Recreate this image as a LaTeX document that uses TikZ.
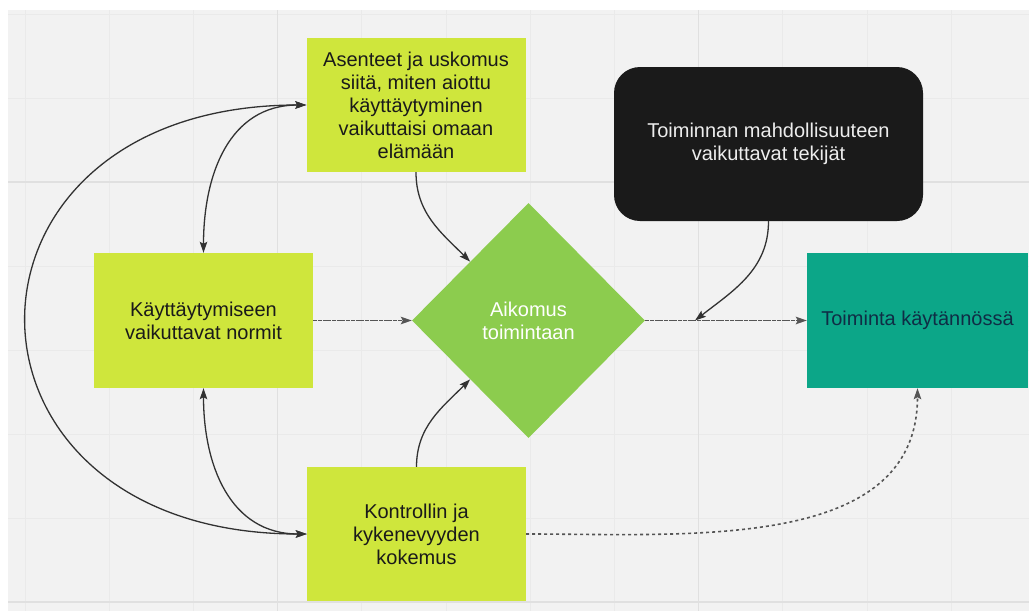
\documentclass[tikz,border=0pt]{standalone}
\usepackage{fontspec}
\setmainfont{Liberation Sans}
\usetikzlibrary{shapes.geometric,arrows.meta}

\definecolor{canvas}{RGB}{242,242,242}
\definecolor{gridminor}{RGB}{234,234,234}
\definecolor{gridmajor}{RGB}{224,224,224}
\definecolor{lime}{RGB}{207,230,60}
\definecolor{leaf}{RGB}{140,204,78}
\definecolor{teal}{RGB}{12,166,136}
\definecolor{ink}{RGB}{26,26,26}
\definecolor{navy}{RGB}{15,45,69}
\definecolor{wire}{RGB}{50,50,50}
\definecolor{softwire}{RGB}{85,85,85}

\tikzset{
  label font/.style={font=\fontsize{20}{23}\selectfont, align=center},
  limebox/.style={label font, fill=lime, text=ink, minimum width=219pt,
    minimum height=134pt, inner sep=0pt},
  decision/.style={label font, diamond, fill=leaf, text=white,
    minimum width=233pt, minimum height=235pt, inner sep=0pt},
  darkbox/.style={label font, fill=ink, text=white!93!black, rounded corners=26pt,
    minimum width=309pt, minimum height=154pt, inner sep=0pt},
  outcome/.style={label font, fill=teal, text=navy, minimum width=221pt,
    minimum height=135pt, inner sep=0pt},
  link/.style={draw=wire, line width=1.3pt, -{Stealth[length=11pt,width=7.5pt,inset=2pt]}},
  twoway/.style={draw=wire, line width=1.3pt,
    {Stealth[length=11pt,width=7.5pt,inset=2pt]}-{Stealth[length=11pt,width=7.5pt,inset=2pt]}},
  flow/.style={draw=softwire, line width=1.6pt, dash pattern=on 4pt off 0.7pt,
    -{Stealth[length=11pt,width=7.5pt,inset=2pt]}},
  weak/.style={draw=softwire, line width=1.6pt, dash pattern=on 3pt off 3pt,
    -{Stealth[length=11pt,width=7.5pt,inset=2pt]}},
}

\begin{document}
\begin{tikzpicture}[x=1pt,y=-1pt]
  \useasboundingbox (0,0) rectangle (1029,611);

  % canvas with a light grid
  \fill[white] (0,0) rectangle (1029,611);
  \fill[canvas] (8,10) rectangle (1029,611);
  \foreach \i in {0,1,2,4,5,6,7,9,10,11,12} {
    \draw[gridminor, line width=1pt] ({25+84.2*\i},10) -- ({25+84.2*\i},611);
  }
  \foreach \j in {0,1,3,4,5,6} {
    \draw[gridminor, line width=1pt] (8,{14+84*\j}) -- (1029,{14+84*\j});
  }
  \foreach \i in {3,8} {
    \draw[gridmajor, line width=1.2pt] ({25+84.2*\i},10) -- ({25+84.2*\i},611);
  }
  \foreach \j in {2,7} {
    \draw[gridmajor, line width=1.2pt] (8,{14+84*\j}) -- (1029,{14+84*\j});
  }

  % boxes
  \node[limebox] (att) at (416,105)
    {Asenteet ja uskomus\\siitä, miten aiottu\\käyttäytyminen\\vaikuttaisi omaan\\elämään};
  \node[limebox, minimum height=135pt] (norm) at (203.5,320.5)
    {Käyttäytymiseen\\vaikuttavat normit};
  \node[limebox] (ctrl) at (416.5,534)
    {Kontrollin ja\\kykenevyyden\\kokemus};
  \node[decision] (int) at (528.5,320.5) {Aikomus\\toimintaan};
  \node[darkbox] (opp) at (768.5,144)
    {Toiminnan mahdollisuuteen\\vaikuttavat tekijät};
  \node[outcome] (act) at (917.5,320.5) {Toiminta käytännössä};

  \coordinate (join) at (695,320.5);

  % influences on the intention
  \draw[link] (att.south) to[out=-90, in=135] (int.north west);
  \draw[flow] (norm.east) -- (int.west);
  \draw[link] (ctrl.north) to[out=90, in=-135] (int.south west);

  % intention to behaviour
  \draw[flow] (int.east) -- (act.west);
  \draw[link] (opp.south) to[out=-90, in=38] (join);
  \draw[weak] (ctrl.east) to[out=0, in=-90] (act.south);

  % mutual links between the three beliefs
  \draw[twoway] (att.west) to[out=180, in=90, looseness=1.1] (norm.north);
  \draw[twoway] (norm.south) to[out=-90, in=180, looseness=1.1] (ctrl.west);
  \draw[twoway] (att.west) to[out=180, in=180, looseness=2.23] (ctrl.west);
\end{tikzpicture}
\end{document}
